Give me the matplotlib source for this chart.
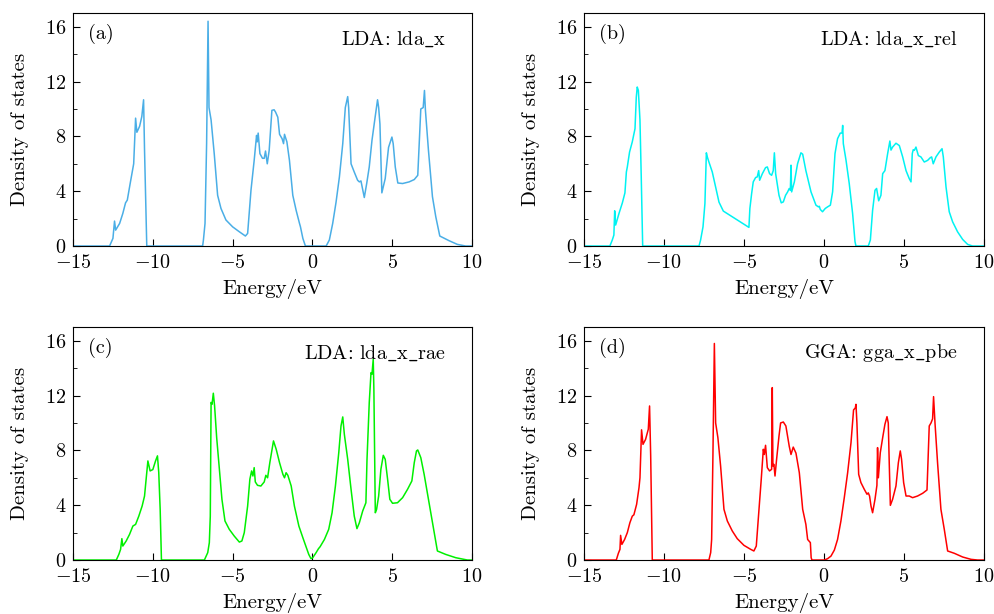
import matplotlib
matplotlib.use('Agg')
import matplotlib.pyplot as plt
from matplotlib.ticker import MultipleLocator, FuncFormatter

plt.rcParams['font.family'] = 'serif'
plt.rcParams['font.serif'] = ['cmr10']
plt.rcParams['mathtext.fontset'] = 'cm'
plt.rcParams['axes.unicode_minus'] = False
plt.rcParams['axes.formatter.use_mathtext'] = True

# (energy, DOS) pairs
dos_a = [(-15, 0), (-12.71, 0), (-12.5, 0.56), (-12.4, 1.82), (-12.33, 1.16), (-12.08, 1.65),
         (-11.88, 2.38), (-11.71, 3.15), (-11.6, 3.35), (-11.42, 4.56), (-11.2, 6.0), (-11.08, 9.33),
         (-11.0, 8.3), (-10.83, 8.73), (-10.69, 9.45), (-10.58, 10.67), (-10.52, 7.0), (-10.38, 0),
         (-6.88, 0), (-6.83, 0.44), (-6.73, 1.65), (-6.63, 7.5), (-6.54, 16.4), (-6.48, 10.1),
         (-6.35, 9.2), (-6.15, 6.7), (-5.94, 3.7), (-5.73, 2.74), (-5.42, 1.9), (-5.0, 1.4),
         (-4.58, 1.04), (-4.2, 0.73), (-4.06, 0.92), (-3.85, 4.07), (-3.65, 6.25), (-3.5, 8.07),
         (-3.46, 7.6), (-3.4, 8.24), (-3.29, 6.74), (-3.13, 6.4), (-3.02, 6.4), (-2.94, 6.93),
         (-2.83, 6.0), (-2.71, 6.98), (-2.54, 9.9), (-2.4, 9.94), (-2.31, 9.77), (-2.17, 9.4),
         (-2.06, 8.15), (-1.9, 7.83), (-1.81, 7.47), (-1.75, 8.15), (-1.6, 7.6), (-1.44, 6.25),
         (-1.23, 3.7), (-1.02, 2.6), (-0.81, 1.65), (-0.75, 1.4), (-0.6, 0.56), (-0.44, 0),
         (0.86, 0), (1.06, 0.44), (1.27, 1.65), (1.48, 3.2), (1.69, 5.04), (1.9, 7.47), (2.06, 10.1),
         (2.21, 10.9), (2.27, 10.1), (2.42, 6.0), (2.62, 5.4), (2.83, 4.8), (2.94, 4.68), (3.04, 4.75),
         (3.25, 3.54), (3.4, 4.56), (3.56, 5.77), (3.73, 7.7), (3.94, 9.5), (4.08, 10.67), (4.15, 10.1),
         (4.23, 8.9), (4.35, 3.88), (4.56, 4.92), (4.77, 7.2), (4.98, 7.95), (5.06, 7.47), (5.19, 5.77),
         (5.35, 4.6), (5.65, 4.56), (6.06, 4.68), (6.38, 4.85), (6.6, 5.16), (6.79, 10.0), (6.94, 10.1),
         (7.02, 11.35), (7.08, 9.9), (7.27, 6.98), (7.52, 3.6), (7.73, 2.13), (7.98, 0.73),
         (8.56, 0.39), (9.08, 0.12), (9.6, 0), (10, 0)]

dos_b = [(-15, 0), (-13.38, 0), (-13.23, 0.44), (-13.13, 0.8), (-13.08, 2.57), (-13.02, 1.53),
         (-12.81, 2.38), (-12.6, 3.15), (-12.44, 3.88), (-12.35, 5.4), (-12.29, 5.77), (-12.15, 6.86),
         (-11.98, 7.6), (-11.81, 8.56), (-11.73, 10.86), (-11.67, 11.6), (-11.6, 11.35), (-11.5, 9.2),
         (-11.42, 5.04), (-11.33, 0), (-7.81, 0), (-7.71, 0.44), (-7.56, 1.4), (-7.44, 3.1),
         (-7.35, 6.8), (-7.29, 6.5), (-7.19, 6.13), (-6.98, 5.4), (-6.77, 4.3), (-6.56, 3.2),
         (-6.29, 2.55), (-4.69, 1.36), (-4.63, 2.74), (-4.52, 3.83), (-4.42, 4.68), (-4.27, 5.0),
         (-4.17, 5.04), (-4.08, 5.5), (-4.02, 4.8), (-3.85, 5.28), (-3.65, 5.72), (-3.54, 5.77),
         (-3.4, 5.28), (-3.27, 5.16), (-3.17, 5.5), (-3.1, 6.8), (-3.02, 5.28), (-2.81, 3.7),
         (-2.67, 3.15), (-2.54, 3.22), (-2.4, 3.7), (-2.27, 3.95), (-2.17, 4.2), (-2.1, 4.07),
         (-2.06, 5.9), (-2.02, 3.95), (-1.85, 4.68), (-1.65, 6.0), (-1.44, 6.8), (-1.33, 6.7),
         (-1.13, 5.5), (-0.81, 3.95), (-0.5, 2.98), (-0.35, 2.86), (-0.29, 2.9), (-0.23, 2.67),
         (-0.09, 2.5), (0.08, 2.74), (0.23, 2.86), (0.4, 2.98), (0.54, 3.95), (0.69, 6.74),
         (0.85, 7.83), (1.02, 8.24), (1.13, 8.24), (1.17, 8.8), (1.21, 7.47), (1.38, 6.25),
         (1.58, 4.56), (1.79, 2.38), (1.94, 0.32), (2.0, 0), (2.77, 0), (2.9, 0.44), (3.04, 2.6),
         (3.19, 4.07), (3.29, 4.2), (3.42, 3.3), (3.56, 3.7), (3.67, 5.28), (3.81, 5.5), (3.98, 6.74),
         (4.12, 7.66), (4.19, 7.0), (4.29, 7.22), (4.5, 7.5), (4.71, 7.33), (4.92, 6.5), (5.13, 5.5),
         (5.33, 4.92), (5.44, 4.68), (5.52, 6.74), (5.58, 7.03), (5.65, 6.98), (5.75, 7.22),
         (5.9, 6.6), (6.06, 6.5), (6.27, 6.13), (6.48, 6.25), (6.65, 6.45), (6.73, 6.5), (6.83, 6.0),
         (7.0, 6.5), (7.21, 6.86), (7.38, 7.1), (7.46, 6.5), (7.63, 4.3), (7.83, 2.5), (8.04, 1.77),
         (8.35, 1.04), (8.67, 0.48), (8.98, 0.12), (9.29, 0), (10, 0)]

dos_c = [(-15, 0), (-12.29, 0), (-12.13, 0.41), (-12.02, 0.78), (-11.94, 1.56), (-11.88, 1.02),
         (-11.67, 1.39), (-11.46, 1.87), (-11.25, 2.48), (-11.08, 2.6), (-10.88, 3.2), (-10.67, 3.94),
         (-10.52, 4.67), (-10.42, 5.9), (-10.31, 7.23), (-10.17, 6.5), (-10.0, 6.6), (-9.83, 7.23),
         (-9.71, 7.6), (-9.63, 6.4), (-9.54, 3.7), (-9.46, 0), (-6.77, 0), (-6.56, 0.54),
         (-6.46, 1.27), (-6.4, 3.2), (-6.35, 11.5), (-6.29, 11.36), (-6.21, 12.17), (-6.13, 11.24),
         (-6.0, 8.93), (-5.83, 6.62), (-5.67, 4.43), (-5.48, 2.85), (-5.21, 2.24), (-4.9, 1.75),
         (-4.58, 1.31), (-4.42, 1.39), (-4.27, 2.0), (-4.06, 3.94), (-3.92, 5.9), (-3.81, 6.5),
         (-3.73, 6.13), (-3.65, 6.74), (-3.58, 5.7), (-3.44, 5.45), (-3.23, 5.4), (-3.02, 5.7),
         (-2.92, 6.18), (-2.81, 6.0), (-2.67, 7.1), (-2.44, 8.69), (-2.27, 8.08), (-2.06, 7.1),
         (-1.85, 6.25), (-1.75, 6.0), (-1.65, 6.37), (-1.54, 6.18), (-1.33, 5.4), (-1.13, 3.94),
         (-0.85, 2.48), (-0.6, 1.63), (-0.4, 0.97), (-0.23, 0.41), (-0.09, 0.1), (0.02, 0.17),
         (0.23, 0.54), (0.38, 0.83), (0.48, 0.97), (0.75, 1.5), (1.02, 2.24), (1.23, 3.45),
         (1.44, 5.4), (1.65, 7.83), (1.79, 9.78), (1.9, 10.44), (2.0, 9.17), (2.21, 7.35),
         (2.42, 5.16), (2.62, 3.21), (2.79, 2.29), (2.94, 2.72), (3.15, 3.58), (3.35, 4.18),
         (3.42, 7.35), (3.56, 11.48), (3.67, 13.67), (3.73, 13.55), (3.81, 14.65), (3.85, 12.46),
         (3.94, 3.45), (4.02, 3.7), (4.15, 4.67), (4.29, 6.62), (4.44, 7.64), (4.56, 7.35),
         (4.71, 5.89), (4.85, 4.43), (5.02, 4.14), (5.33, 4.18), (5.65, 4.55), (5.96, 5.16),
         (6.23, 5.77), (6.38, 7.1), (6.52, 7.96), (6.6, 8.03), (6.79, 7.47), (7.0, 6.25),
         (7.27, 4.43), (7.56, 2.48), (7.83, 0.66), (8.35, 0.41), (8.98, 0.17), (9.71, 0), (10, 0)]

dos_d = [(-15, 0), (-12.98, 0), (-12.85, 0.49), (-12.75, 0.78), (-12.71, 1.8), (-12.63, 1.14),
         (-12.46, 1.5), (-12.29, 2.0), (-12.13, 2.72), (-11.98, 3.2), (-11.88, 3.3), (-11.71, 4.06),
         (-11.56, 5.28), (-11.5, 6.0), (-11.4, 9.5), (-11.31, 8.44), (-11.15, 8.8), (-10.98, 9.54),
         (-10.9, 11.24), (-10.83, 7.6), (-10.73, 0), (-7.19, 0), (-7.08, 0.54), (-7.02, 1.5),
         (-6.94, 7.6), (-6.85, 15.8), (-6.77, 10.0), (-6.63, 8.93), (-6.46, 6.86), (-6.25, 3.7),
         (-6.04, 2.85), (-5.73, 2.12), (-5.42, 1.56), (-5.0, 1.07), (-4.58, 0.78), (-4.38, 0.66),
         (-4.23, 1.02), (-4.06, 3.7), (-3.92, 5.89), (-3.79, 8.08), (-3.73, 7.7), (-3.65, 8.37),
         (-3.54, 6.74), (-3.4, 6.5), (-3.27, 6.62), (-3.23, 12.58), (-3.19, 6.86), (-3.13, 6.98),
         (-3.06, 6.13), (-2.96, 7.35), (-2.81, 9.05), (-2.71, 10.0), (-2.54, 10.07), (-2.38, 9.78),
         (-2.17, 8.3), (-2.06, 7.7), (-1.92, 8.24), (-1.75, 7.8), (-1.54, 6.37), (-1.33, 3.7),
         (-1.13, 2.6), (-1.02, 1.5), (-0.85, 1.27), (-0.8, 0.17), (-0.75, 0), (0.02, 0), (0.23, 0.1),
         (0.44, 0.29), (0.65, 0.73), (0.85, 1.5), (1.06, 2.85), (1.27, 4.55), (1.48, 6.37),
         (1.69, 8.56), (1.85, 10.95), (1.96, 11.1), (2.0, 11.36), (2.06, 10.0), (2.17, 6.25),
         (2.31, 5.65), (2.52, 5.16), (2.69, 4.8), (2.77, 4.9), (2.85, 4.67), (2.94, 3.94),
         (3.04, 3.45), (3.19, 4.43), (3.31, 5.45), (3.35, 8.2), (3.4, 6.0), (3.52, 7.83),
         (3.67, 8.93), (3.81, 9.9), (3.94, 10.46), (4.02, 10.0), (4.08, 7.1), (4.15, 3.99),
         (4.29, 4.43), (4.5, 5.4), (4.65, 7.1), (4.77, 7.96), (4.85, 7.35), (4.98, 5.65),
         (5.13, 4.67), (5.33, 4.67), (5.54, 4.55), (5.85, 4.67), (6.17, 4.87), (6.44, 5.11),
         (6.58, 9.78), (6.69, 10.0), (6.79, 10.3), (6.85, 11.92), (6.94, 10.0), (7.1, 7.1),
         (7.31, 3.7), (7.52, 2.24), (7.73, 0.66), (8.15, 0.49), (8.67, 0.22), (9.19, 0.05),
         (9.6, 0), (10, 0)]

tags = ['(a)', '(b)', '(c)', '(d)']
names = [r'LDA: lda$\_$x', r'LDA: lda$\_$x$\_$rel', r'LDA: lda$\_$x$\_$rae', r'GGA: gga$\_$x$\_$pbe']
colors = ['#4aaee6', '#00f2f2', '#00f000', '#ff0000']
rects = [[0.0734, 0.5993, 0.401, 0.3795], [0.5869, 0.5993, 0.402, 0.3795],
         [0.0734, 0.0879, 0.401, 0.3795], [0.5869, 0.0879, 0.402, 0.3795]]

fig = plt.figure(figsize=(9.95, 6.14), dpi=100)
fmt = FuncFormatter(lambda v, p: '$%g$' % v)

for pts, color, tag, name, rect in zip([dos_a, dos_b, dos_c, dos_d], colors, tags, names, rects):
    ax = fig.add_axes(rect)
    e, d = zip(*pts)
    ax.plot(e, d, color=color, lw=1.1)
    ax.set_xlim(-15, 10)
    ax.set_ylim(0, 17)
    ax.xaxis.set_major_locator(MultipleLocator(5))
    ax.yaxis.set_major_locator(MultipleLocator(4))
    ax.yaxis.set_minor_locator(MultipleLocator(2))
    ax.xaxis.set_major_formatter(fmt)
    ax.yaxis.set_major_formatter(fmt)
    ax.tick_params(which='both', direction='in', top=False, right=False, labelsize=14.5)
    ax.tick_params(axis='x', pad=6)
    ax.tick_params(axis='y', pad=5)
    ax.tick_params(which='major', length=5, width=0.8)
    ax.tick_params(which='minor', length=3, width=0.6)
    ax.set_xlabel('Energy/eV', fontsize=15)
    ax.set_ylabel('Density of states', fontsize=15)
    ax.xaxis.set_label_coords(0.5, -0.185)
    ax.xaxis.label.set_verticalalignment('center')
    ax.yaxis.set_label_coords(-0.1325, 0.5)
    ax.yaxis.label.set_verticalalignment('center')
    ax.text(0.037, 0.91, tag, transform=ax.transAxes, fontsize=14.5, va='center', ha='left')
    ax.text(0.935, 0.888, name, transform=ax.transAxes, fontsize=14.5, va='center', ha='right')

fig.savefig('out.png', dpi=100)
